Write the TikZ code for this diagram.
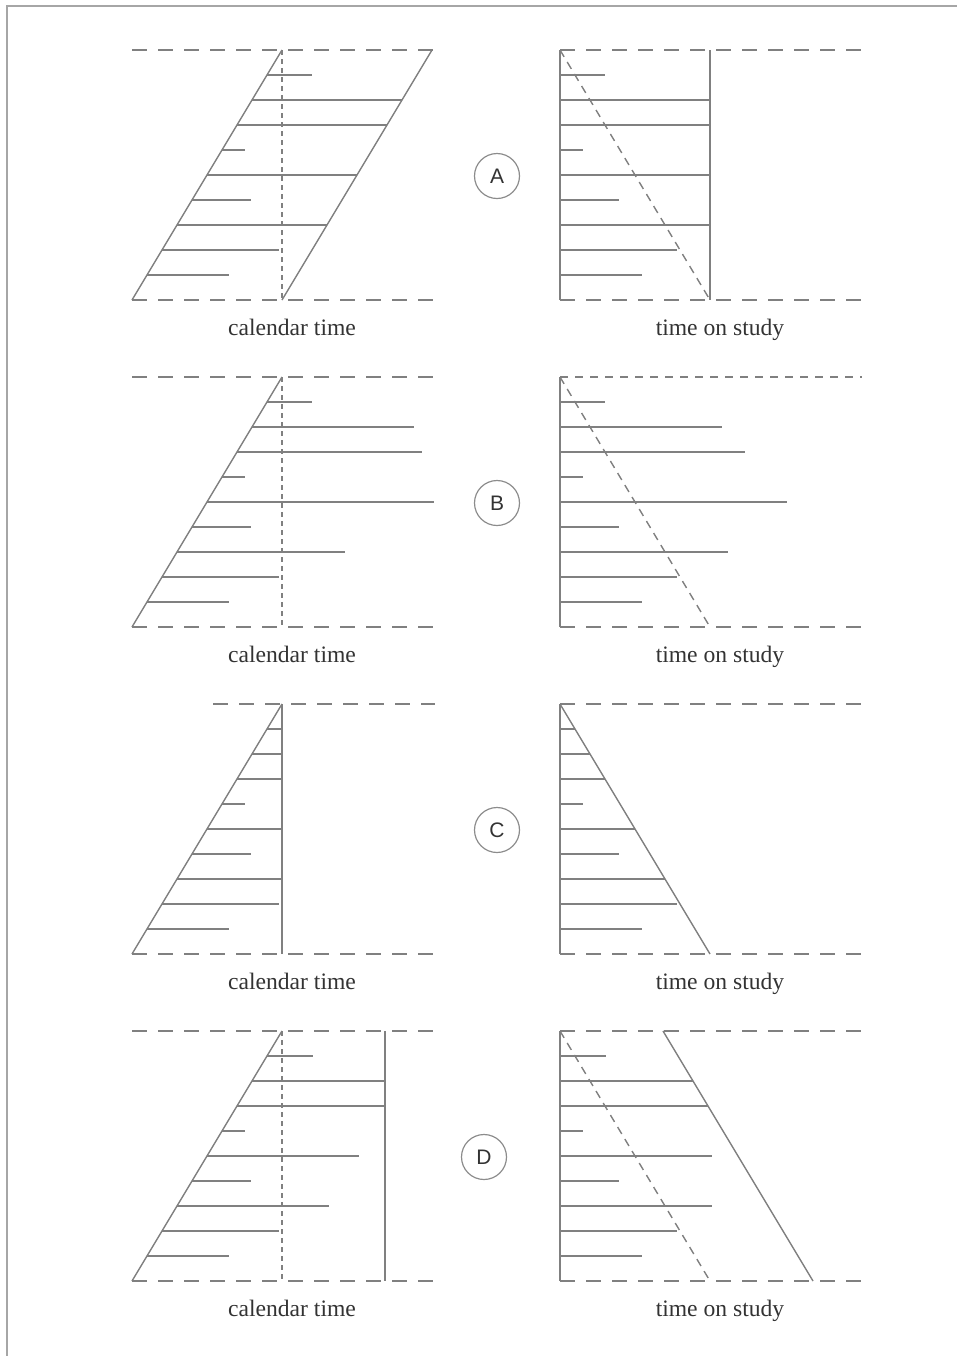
\documentclass[tikz,border=0pt]{standalone}
\usepackage{fontspec}
\setmainfont{Liberation Serif}
\newfontfamily\lsans{Liberation Sans}
\begin{document}
\begin{tikzpicture}[x=0.5pt,y=-0.5pt,
  ln/.style={draw=black!50,line width=0.7pt},
  bigdash/.style={ln,dash pattern=on 7.5pt off 5.5pt},
  finedash/.style={ln,dash pattern=on 4pt off 3.5pt},
  vdash/.style={ln,dash pattern=on 2.5pt off 2pt},
  ddash/.style={ln,dash pattern=on 4pt off 3pt},
  axlabel/.style={font=\fontsize{11.8}{13}\selectfont,text=black!80,inner sep=0pt,anchor=base},
  circlab/.style={circle,draw=black!45,line width=0.6pt,minimum size=22.5pt,inner sep=0pt,font=\lsans\fontsize{10.5}{12}\selectfont,text=black!80}]
\useasboundingbox (0,0) rectangle (957,1356);
% frame
\draw[draw=black!35,line width=0.8pt] (7,1356) -- (7,6) -- (957,6);

% ---------------- Panel A ----------------
\begin{scope}[shift={(0,0)}]
  \draw[bigdash] (132,50) -- (435,50);
  \draw[bigdash] (132,300) -- (435,300);
  \draw[ln] (132,300) -- (282,50);
  \draw[ln] (282,300) -- (432,50);
  \draw[vdash] (282,50) -- (282,300);
  \draw[bigdash] (560,50) -- (862,50);
  \draw[bigdash] (560,300) -- (862,300);
  \draw[ln] (560,50) -- (560,300);
  \draw[ln] (710,50) -- (710,300);
  \draw[ddash] (560,50) -- (710,300);
  \foreach \i/\d in {1/45,2/150,3/150,4/23,5/150,6/59,7/150,8/117,9/82}{
    \draw[ln] ({282-15*\i},{50+25*\i}) -- ++(\d,0);
    \draw[ln] (560,{50+25*\i}) -- ++(\d,0);
  }
  \node[axlabel] (calA) at (292,335) {calendar time};
  \node[axlabel] (studyA) at (720,335) {time on study};
  \node[circlab] (A) at (497,176) {A};
\end{scope}

% ---------------- Panel B ----------------
\begin{scope}[shift={(0,327)}]
  \draw[bigdash] (132,50) -- (435,50);
  \draw[bigdash] (132,300) -- (435,300);
  \draw[ln] (132,300) -- (282,50);
  \draw[vdash] (282,50) -- (282,300);
  \draw[finedash] (560,50) -- (862,50);
  \draw[bigdash] (560,300) -- (862,300);
  \draw[ln] (560,50) -- (560,300);
  \draw[ddash] (560,50) -- (710,300);
  \foreach \i/\d in {1/45,2/162,3/185,4/23,5/227,6/59,7/168,8/117,9/82}{
    \draw[ln] ({282-15*\i},{50+25*\i}) -- ++(\d,0);
    \draw[ln] (560,{50+25*\i}) -- ++(\d,0);
  }
  \node[axlabel] (calB) at (292,335) {calendar time};
  \node[axlabel] (studyB) at (720,335) {time on study};
  \node[circlab] (B) at (497,176) {B};
\end{scope}

% ---------------- Panel C ----------------
\begin{scope}[shift={(0,654)}]
  \draw[bigdash] (213,50) -- (435,50);
  \draw[bigdash] (132,300) -- (435,300);
  \draw[ln] (132,300) -- (282,50);
  \draw[ln] (282,50) -- (282,300);
  \draw[bigdash] (560,50) -- (862,50);
  \draw[bigdash] (560,300) -- (862,300);
  \draw[ln] (560,50) -- (560,300);
  \draw[ln] (560,50) -- (710,300);
  \foreach \i/\d in {1/15,2/30,3/45,4/23,5/75,6/59,7/105,8/117,9/82}{
    \draw[ln] ({282-15*\i},{50+25*\i}) -- ++(\d,0);
    \draw[ln] (560,{50+25*\i}) -- ++(\d,0);
  }
  \node[axlabel] (calC) at (292,335) {calendar time};
  \node[axlabel] (studyC) at (720,335) {time on study};
  \node[circlab] (C) at (497,176) {C};
\end{scope}

% ---------------- Panel D ----------------
\begin{scope}[shift={(0,981)}]
  \draw[bigdash] (132,50) -- (435,50);
  \draw[bigdash] (132,300) -- (435,300);
  \draw[ln] (132,300) -- (282,50);
  \draw[vdash] (282,50) -- (282,300);
  \draw[ln] (385,50) -- (385,300);
  \draw[bigdash] (560,50) -- (862,50);
  \draw[bigdash] (560,300) -- (862,300);
  \draw[ln] (560,50) -- (560,300);
  \draw[ddash] (560,50) -- (710,300);
  \draw[ln] (663,50) -- (813,300);
  \foreach \i/\d in {1/46,2/133,3/148,4/23,5/152,6/59,7/152,8/117,9/82}{
    \draw[ln] ({282-15*\i},{50+25*\i}) -- ++(\d,0);
    \draw[ln] (560,{50+25*\i}) -- ++(\d,0);
  }
  \node[axlabel] (calD) at (292,335) {calendar time};
  \node[axlabel] (studyD) at (720,335) {time on study};
  \node[circlab] (D) at (484,176) {D};
\end{scope}
\end{tikzpicture}
\end{document}
